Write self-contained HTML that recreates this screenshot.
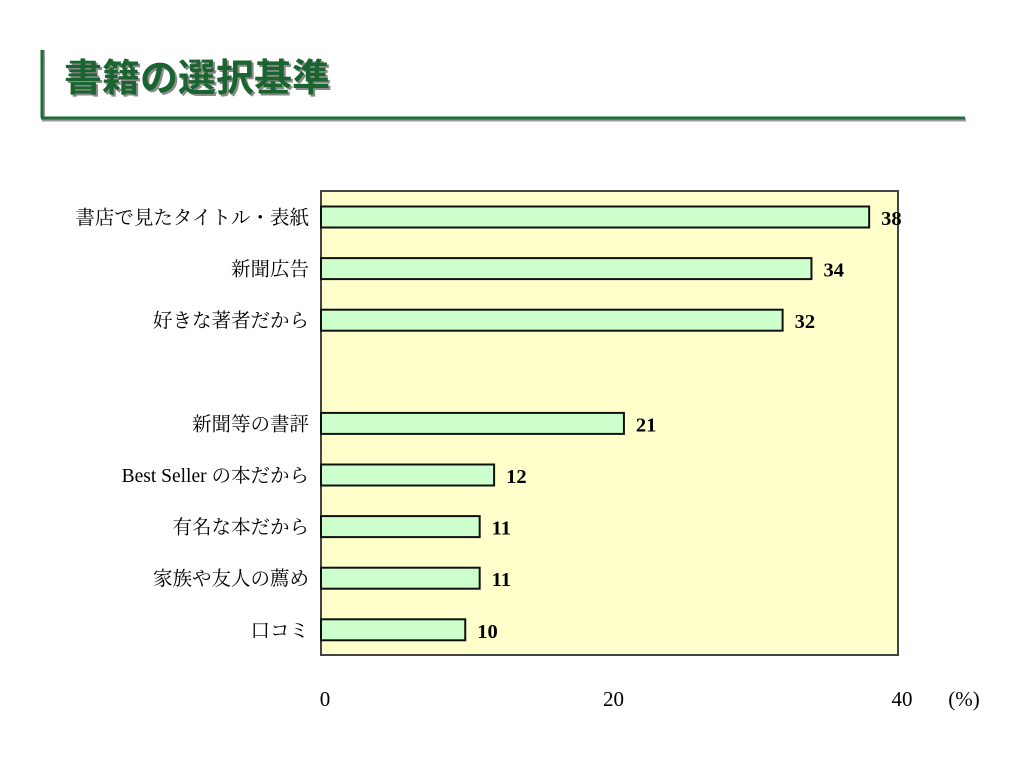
<!DOCTYPE html>
<html><head><meta charset="utf-8"><style>
body{margin:0;width:1024px;height:768px;background:#fff;overflow:hidden;font-family:"Liberation Serif","Noto Serif CJK JP","Noto Serif CJK SC",serif;}
</style></head><body>
<svg width="1024" height="768">
<line x1="43" y1="50" x2="43" y2="119" stroke="#999" stroke-width="4"/>
<line x1="42" y1="50" x2="42" y2="118" stroke="#1f6b36" stroke-width="3"/>
<line x1="42" y1="120" x2="966" y2="120" stroke="#999" stroke-width="3"/>
<line x1="41" y1="118" x2="965" y2="118" stroke="#1f6b36" stroke-width="3"/>
<text x="66" y="93" font-size="38" font-weight="bold" fill="#8a8a8a" font-family="'Noto Sans CJK JP',sans-serif">書籍の選択基準</text>
<text x="64" y="91" font-size="38" font-weight="bold" fill="#1a6430" font-family="'Noto Sans CJK JP',sans-serif">書籍の選択基準</text>
<rect x="321" y="191" width="577" height="464" fill="#ffffcc" stroke="#444" stroke-width="2"/>
<g id="bars"></g>
<g id="ticks"></g>
<text x="964" y="706" font-size="21" text-anchor="middle">(%)</text>
</svg>
<script>
const categories=["書店で見たタイトル・表紙","新聞広告","好きな著者だから","","新聞等の書評","Best Seller の本だから","有名な本だから","家族や友人の薦め","口コミ"];
const values=[38,34,32,null,21,12,11,11,10];
const tickValues=[0,20,40];
const tickLabels=["0","20","40"];
const x0=321,xmax=898,vmax=40;
function xs(v){return x0+(xmax-x0)*v/vmax;}
function yc(i){return 217+i*51.6;}
const ns="http://www.w3.org/2000/svg";
const g=document.getElementById('bars');
categories.forEach((c,i)=>{
 const y=yc(i);
 if(c){
  const t=document.createElementNS(ns,'text');
  
  
  t.setAttribute('x',309);t.setAttribute('y',y+7);t.setAttribute('text-anchor','end');t.setAttribute('font-size','19.5');
  t.textContent=c;g.appendChild(t);
 }
 if(values[i]!=null){
  const r=document.createElementNS(ns,'rect');
  
  
  r.setAttribute('x',x0);r.setAttribute('y',y-10.5);r.setAttribute('width',xs(values[i])-x0);r.setAttribute('height',21);
  r.setAttribute('fill','#ccffcc');r.setAttribute('stroke','#111');r.setAttribute('stroke-width','2');
  g.appendChild(r);
  const v=document.createElementNS(ns,'text');
  
  
  v.setAttribute('x',xs(values[i])+12);v.setAttribute('y',y+8);v.setAttribute('font-size','20.5');v.setAttribute('font-weight','bold');
  v.textContent=values[i];g.appendChild(v);
 }
});
const tg=document.getElementById('ticks');
tickValues.forEach((tv,i)=>{
 const t=document.createElementNS(ns,'text');
 
 
 t.setAttribute('x',xs(tv)+4);t.setAttribute('y',706);t.setAttribute('text-anchor','middle');t.setAttribute('font-size','21');
 t.textContent=tickLabels[i];tg.appendChild(t);
});
</script>
</body></html>
